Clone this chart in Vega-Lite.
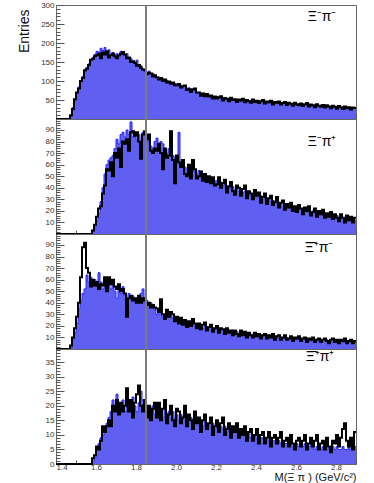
{
"$schema":"https://vega.github.io/schema/vega-lite/v6.json",
"background":"white",
"padding":{"left":16,"top":0,"right":0,"bottom":0},
"spacing":0,
"bounds":"flush",
"config":{"view":{"stroke":"#666","strokeWidth":1},"axis":{"labelFont":"Liberation Sans","labelFontSize":8,"labelColor":"#333","tickColor":"#555","tickWidth":1,"domain":false,"grid":false,"zindex":1,"labelOverlap":false,"titleFont":"Liberation Sans","titleFontWeight":"normal","titleColor":"#111"},"axisY":{"labelPadding":10},"axisX":{"labelPadding":6.5}},
"datasets":{
"p1":[{"x":1.4,"b":0,"k":0},{"x":1.47,"b":8,"k":10},{"x":1.48,"b":30,"k":26},{"x":1.49,"b":50,"k":52},{"x":1.5,"b":68,"k":70},{"x":1.51,"b":84,"k":80},{"x":1.52,"b":98,"k":100},{"x":1.53,"b":112,"k":108},{"x":1.54,"b":125,"k":128},{"x":1.55,"b":135,"k":132},{"x":1.56,"b":145,"k":142},{"x":1.57,"b":152,"k":156},{"x":1.58,"b":162,"k":158},{"x":1.59,"b":170,"k":165},{"x":1.6,"b":178,"k":168},{"x":1.61,"b":176,"k":172},{"x":1.62,"b":186,"k":160},{"x":1.63,"b":180,"k":175},{"x":1.64,"b":188,"k":170},{"x":1.65,"b":176,"k":178},{"x":1.66,"b":182,"k":162},{"x":1.67,"b":170,"k":168},{"x":1.68,"b":175,"k":172},{"x":1.69,"b":168,"k":165},{"x":1.7,"b":172,"k":160},{"x":1.71,"b":165,"k":168},{"x":1.72,"b":178,"k":172},{"x":1.73,"b":170,"k":176},{"x":1.74,"b":168,"k":170},{"x":1.75,"b":172,"k":160},{"x":1.76,"b":158,"k":162},{"x":1.77,"b":160,"k":150},{"x":1.78,"b":150,"k":152},{"x":1.79,"b":145,"k":148},{"x":1.8,"b":155,"k":140},{"x":1.81,"b":138,"k":142},{"x":1.82,"b":140,"k":135},{"x":1.83,"b":132,"k":130},{"x":1.84,"b":125,"k":128},{"x":1.85,"b":122,"k":118},{"x":1.86,"b":126,"k":122},{"x":1.87,"b":118,"k":120},{"x":1.88,"b":120,"k":112},{"x":1.89,"b":112,"k":115},{"x":1.9,"b":108,"k":110},{"x":1.91,"b":110,"k":104},{"x":1.92,"b":104,"k":108},{"x":1.93,"b":106,"k":100},{"x":1.94,"b":100,"k":104},{"x":1.95,"b":102,"k":96},{"x":1.96,"b":96,"k":99},{"x":1.97,"b":97,"k":93},{"x":1.98,"b":93,"k":96},{"x":1.99,"b":94,"k":89},{"x":2.0,"b":92,"k":89},{"x":2.01,"b":87,"k":92},{"x":2.02,"b":89,"k":83},{"x":2.03,"b":84,"k":86},{"x":2.04,"b":79,"k":88},{"x":2.05,"b":81,"k":76},{"x":2.06,"b":82,"k":78},{"x":2.07,"b":74,"k":71},{"x":2.08,"b":75,"k":78},{"x":2.09,"b":75,"k":80},{"x":2.1,"b":69,"k":70},{"x":2.11,"b":70,"k":70},{"x":2.12,"b":66,"k":61},{"x":2.13,"b":68,"k":67},{"x":2.14,"b":61,"k":60},{"x":2.15,"b":61,"k":66},{"x":2.16,"b":62,"k":59},{"x":2.17,"b":56,"k":62},{"x":2.18,"b":59,"k":54},{"x":2.19,"b":56,"k":59},{"x":2.2,"b":59,"k":54},{"x":2.21,"b":54,"k":57},{"x":2.22,"b":55,"k":60},{"x":2.23,"b":52,"k":49},{"x":2.24,"b":56,"k":55},{"x":2.25,"b":51,"k":53},{"x":2.26,"b":53,"k":47},{"x":2.27,"b":50,"k":56},{"x":2.28,"b":52,"k":50},{"x":2.29,"b":48,"k":52},{"x":2.3,"b":51,"k":45},{"x":2.31,"b":49,"k":51},{"x":2.32,"b":46,"k":49},{"x":2.33,"b":50,"k":53},{"x":2.34,"b":47,"k":44},{"x":2.35,"b":48,"k":50},{"x":2.36,"b":45,"k":47},{"x":2.37,"b":49,"k":43},{"x":2.38,"b":46,"k":51},{"x":2.39,"b":47,"k":45},{"x":2.4,"b":45,"k":48},{"x":2.41,"b":48,"k":42},{"x":2.42,"b":44,"k":47},{"x":2.43,"b":46,"k":50},{"x":2.44,"b":43,"k":41},{"x":2.45,"b":46,"k":46},{"x":2.46,"b":42,"k":44},{"x":2.47,"b":45,"k":48},{"x":2.48,"b":43,"k":38},{"x":2.49,"b":41,"k":45},{"x":2.5,"b":44,"k":43},{"x":2.51,"b":41,"k":46},{"x":2.52,"b":43,"k":38},{"x":2.53,"b":40,"k":42},{"x":2.54,"b":42,"k":45},{"x":2.55,"b":39,"k":37},{"x":2.56,"b":41,"k":43},{"x":2.57,"b":38,"k":40},{"x":2.58,"b":40,"k":35},{"x":2.59,"b":39,"k":43},{"x":2.6,"b":37,"k":39},{"x":2.61,"b":40,"k":36},{"x":2.62,"b":37,"k":41},{"x":2.63,"b":38,"k":34},{"x":2.64,"b":36,"k":39},{"x":2.65,"b":38,"k":42},{"x":2.66,"b":35,"k":33},{"x":2.67,"b":37,"k":38},{"x":2.68,"b":34,"k":36},{"x":2.69,"b":36,"k":31},{"x":2.7,"b":35,"k":39},{"x":2.71,"b":33,"k":35},{"x":2.72,"b":36,"k":32},{"x":2.73,"b":33,"k":37},{"x":2.74,"b":34,"k":30},{"x":2.75,"b":32,"k":36},{"x":2.76,"b":34,"k":33},{"x":2.77,"b":31,"k":28},{"x":2.78,"b":33,"k":35},{"x":2.79,"b":31,"k":32},{"x":2.8,"b":30,"k":27},{"x":2.81,"b":32,"k":34},{"x":2.82,"b":29,"k":31},{"x":2.83,"b":31,"k":26},{"x":2.84,"b":29,"k":33},{"x":2.85,"b":30,"k":28},{"x":2.86,"b":28,"k":31},{"x":2.87,"b":29,"k":25},{"x":2.88,"b":27,"k":30},{"x":2.89,"b":28,"k":29},{"x":2.9,"b":28,"k":29}],
"p2":[{"x":1.4,"b":0,"k":0},{"x":1.58,"b":2,"k":3},{"x":1.59,"b":6,"k":8},{"x":1.6,"b":12,"k":15},{"x":1.61,"b":18,"k":22},{"x":1.62,"b":28,"k":24},{"x":1.63,"b":40,"k":35},{"x":1.64,"b":52,"k":42},{"x":1.65,"b":60,"k":56},{"x":1.66,"b":64,"k":55},{"x":1.67,"b":66,"k":62},{"x":1.68,"b":68,"k":50},{"x":1.69,"b":74,"k":70},{"x":1.7,"b":82,"k":66},{"x":1.71,"b":78,"k":74},{"x":1.72,"b":86,"k":58},{"x":1.73,"b":88,"k":80},{"x":1.74,"b":84,"k":78},{"x":1.75,"b":90,"k":82},{"x":1.76,"b":86,"k":72},{"x":1.77,"b":97,"k":88},{"x":1.78,"b":84,"k":89},{"x":1.79,"b":88,"k":85},{"x":1.8,"b":82,"k":88},{"x":1.81,"b":86,"k":80},{"x":1.82,"b":80,"k":65},{"x":1.83,"b":88,"k":86},{"x":1.84,"b":86,"k":89},{"x":1.85,"b":84,"k":82},{"x":1.86,"b":80,"k":86},{"x":1.87,"b":76,"k":72},{"x":1.88,"b":74,"k":70},{"x":1.89,"b":80,"k":74},{"x":1.9,"b":83,"k":72},{"x":1.91,"b":76,"k":78},{"x":1.92,"b":80,"k":70},{"x":1.93,"b":78,"k":56},{"x":1.94,"b":72,"k":74},{"x":1.95,"b":70,"k":66},{"x":1.96,"b":74,"k":68},{"x":1.97,"b":70,"k":89},{"x":1.98,"b":68,"k":64},{"x":1.99,"b":66,"k":44},{"x":2.0,"b":64,"k":68},{"x":2.01,"b":88,"k":62},{"x":2.02,"b":62,"k":58},{"x":2.03,"b":60,"k":64},{"x":2.04,"b":58,"k":52},{"x":2.05,"b":56,"k":50},{"x":2.06,"b":58,"k":60},{"x":2.07,"b":55,"k":48},{"x":2.08,"b":60,"k":64},{"x":2.09,"b":54,"k":56},{"x":2.1,"b":52,"k":48},{"x":2.11,"b":55,"k":50},{"x":2.12,"b":50,"k":54},{"x":2.13,"b":52,"k":46},{"x":2.14,"b":48,"k":52},{"x":2.15,"b":49,"k":45},{"x":2.16,"b":47,"k":50},{"x":2.17,"b":48,"k":44},{"x":2.18,"b":46,"k":49},{"x":2.19,"b":46,"k":42},{"x":2.2,"b":46,"k":43},{"x":2.21,"b":44,"k":49},{"x":2.22,"b":45,"k":40},{"x":2.23,"b":42,"k":44},{"x":2.24,"b":43,"k":47},{"x":2.25,"b":40,"k":36},{"x":2.26,"b":42,"k":41},{"x":2.27,"b":39,"k":45},{"x":2.28,"b":41,"k":37},{"x":2.29,"b":38,"k":34},{"x":2.3,"b":40,"k":42},{"x":2.31,"b":37,"k":40},{"x":2.32,"b":38,"k":33},{"x":2.33,"b":36,"k":39},{"x":2.34,"b":37,"k":42},{"x":2.35,"b":34,"k":31},{"x":2.36,"b":36,"k":37},{"x":2.37,"b":33,"k":35},{"x":2.38,"b":35,"k":30},{"x":2.39,"b":33,"k":38},{"x":2.4,"b":34,"k":33},{"x":2.41,"b":31,"k":36},{"x":2.42,"b":33,"k":27},{"x":2.43,"b":30,"k":32},{"x":2.44,"b":31,"k":35},{"x":2.45,"b":29,"k":26},{"x":2.46,"b":30,"k":31},{"x":2.47,"b":28,"k":33},{"x":2.48,"b":29,"k":25},{"x":2.49,"b":27,"k":28},{"x":2.5,"b":28,"k":32},{"x":2.51,"b":25,"k":23},{"x":2.52,"b":27,"k":27},{"x":2.53,"b":24,"k":29},{"x":2.54,"b":26,"k":21},{"x":2.55,"b":24,"k":26},{"x":2.56,"b":25,"k":23},{"x":2.57,"b":22,"k":27},{"x":2.58,"b":24,"k":20},{"x":2.59,"b":22,"k":24},{"x":2.6,"b":23,"k":19},{"x":2.61,"b":21,"k":25},{"x":2.62,"b":22,"k":22},{"x":2.63,"b":20,"k":17},{"x":2.64,"b":21,"k":23},{"x":2.65,"b":19,"k":20},{"x":2.66,"b":20,"k":24},{"x":2.67,"b":18,"k":16},{"x":2.68,"b":20,"k":19},{"x":2.69,"b":18,"k":22},{"x":2.7,"b":19,"k":15},{"x":2.71,"b":17,"k":20},{"x":2.72,"b":18,"k":17},{"x":2.73,"b":16,"k":21},{"x":2.74,"b":17,"k":14},{"x":2.75,"b":16,"k":18},{"x":2.76,"b":17,"k":15},{"x":2.77,"b":15,"k":19},{"x":2.78,"b":16,"k":13},{"x":2.79,"b":14,"k":17},{"x":2.8,"b":16,"k":14},{"x":2.81,"b":14,"k":11},{"x":2.82,"b":15,"k":17},{"x":2.83,"b":13,"k":14},{"x":2.84,"b":14,"k":10},{"x":2.85,"b":13,"k":16},{"x":2.86,"b":14,"k":12},{"x":2.87,"b":12,"k":15},{"x":2.88,"b":13,"k":10},{"x":2.89,"b":12,"k":14},{"x":2.9,"b":12,"k":14}],
"p3":[{"x":1.4,"b":0,"k":0},{"x":1.47,"b":2,"k":3},{"x":1.48,"b":8,"k":10},{"x":1.49,"b":14,"k":18},{"x":1.5,"b":22,"k":28},{"x":1.51,"b":35,"k":40},{"x":1.52,"b":42,"k":62},{"x":1.53,"b":48,"k":88},{"x":1.54,"b":52,"k":92},{"x":1.55,"b":64,"k":70},{"x":1.56,"b":58,"k":66},{"x":1.57,"b":62,"k":54},{"x":1.58,"b":56,"k":60},{"x":1.59,"b":60,"k":55},{"x":1.6,"b":54,"k":58},{"x":1.61,"b":66,"k":52},{"x":1.62,"b":58,"k":56},{"x":1.63,"b":52,"k":55},{"x":1.64,"b":60,"k":62},{"x":1.65,"b":55,"k":50},{"x":1.66,"b":58,"k":62},{"x":1.67,"b":52,"k":56},{"x":1.68,"b":56,"k":60},{"x":1.69,"b":50,"k":54},{"x":1.7,"b":44,"k":52},{"x":1.71,"b":52,"k":56},{"x":1.72,"b":48,"k":50},{"x":1.73,"b":54,"k":52},{"x":1.74,"b":46,"k":48},{"x":1.75,"b":42,"k":28},{"x":1.76,"b":48,"k":44},{"x":1.77,"b":44,"k":46},{"x":1.78,"b":46,"k":42},{"x":1.79,"b":40,"k":44},{"x":1.8,"b":44,"k":40},{"x":1.81,"b":42,"k":46},{"x":1.82,"b":48,"k":40},{"x":1.83,"b":52,"k":44},{"x":1.84,"b":40,"k":42},{"x":1.85,"b":42,"k":38},{"x":1.86,"b":38,"k":40},{"x":1.87,"b":40,"k":36},{"x":1.88,"b":36,"k":38},{"x":1.89,"b":34,"k":36},{"x":1.9,"b":30,"k":35},{"x":1.91,"b":34,"k":32},{"x":1.92,"b":32,"k":43},{"x":1.93,"b":28,"k":30},{"x":1.94,"b":30,"k":26},{"x":1.95,"b":32,"k":34},{"x":1.96,"b":30,"k":28},{"x":1.97,"b":29,"k":32},{"x":1.98,"b":27,"k":30},{"x":1.99,"b":28,"k":24},{"x":2.0,"b":26,"k":28},{"x":2.01,"b":25,"k":22},{"x":2.02,"b":24,"k":27},{"x":2.03,"b":23,"k":21},{"x":2.04,"b":22,"k":25},{"x":2.05,"b":21,"k":19},{"x":2.06,"b":22,"k":24},{"x":2.07,"b":21,"k":20},{"x":2.08,"b":23,"k":26},{"x":2.09,"b":20,"k":22},{"x":2.1,"b":21,"k":18},{"x":2.11,"b":19,"k":22},{"x":2.12,"b":20,"k":17},{"x":2.13,"b":18,"k":21},{"x":2.14,"b":20,"k":23},{"x":2.15,"b":18,"k":16},{"x":2.16,"b":19,"k":19},{"x":2.17,"b":17,"k":21},{"x":2.18,"b":18,"k":15},{"x":2.19,"b":17,"k":18},{"x":2.2,"b":18,"k":20},{"x":2.21,"b":16,"k":14},{"x":2.22,"b":17,"k":18},{"x":2.23,"b":15,"k":17},{"x":2.24,"b":16,"k":13},{"x":2.25,"b":15,"k":18},{"x":2.26,"b":16,"k":14},{"x":2.27,"b":14,"k":16},{"x":2.28,"b":15,"k":12},{"x":2.29,"b":14,"k":16},{"x":2.3,"b":15,"k":13},{"x":2.31,"b":13,"k":11},{"x":2.32,"b":14,"k":16},{"x":2.33,"b":13,"k":12},{"x":2.34,"b":14,"k":15},{"x":2.35,"b":12,"k":10},{"x":2.36,"b":13,"k":14},{"x":2.37,"b":12,"k":12},{"x":2.38,"b":13,"k":10},{"x":2.39,"b":12,"k":14},{"x":2.4,"b":12,"k":11},{"x":2.41,"b":11,"k":13},{"x":2.42,"b":12,"k":9},{"x":2.43,"b":11,"k":12},{"x":2.44,"b":12,"k":13},{"x":2.45,"b":10,"k":9},{"x":2.46,"b":11,"k":12},{"x":2.47,"b":10,"k":10},{"x":2.48,"b":11,"k":13},{"x":2.49,"b":10,"k":8},{"x":2.5,"b":11,"k":11},{"x":2.51,"b":9,"k":12},{"x":2.52,"b":10,"k":8},{"x":2.53,"b":10,"k":10},{"x":2.54,"b":9,"k":12},{"x":2.55,"b":10,"k":8},{"x":2.56,"b":9,"k":9},{"x":2.57,"b":10,"k":11},{"x":2.58,"b":9,"k":7},{"x":2.59,"b":9,"k":10},{"x":2.6,"b":8,"k":9},{"x":2.61,"b":9,"k":11},{"x":2.62,"b":8,"k":7},{"x":2.63,"b":9,"k":9},{"x":2.64,"b":8,"k":10},{"x":2.65,"b":8,"k":6},{"x":2.66,"b":8,"k":9},{"x":2.67,"b":7,"k":8},{"x":2.68,"b":8,"k":10},{"x":2.69,"b":7,"k":6},{"x":2.7,"b":8,"k":8},{"x":2.71,"b":7,"k":9},{"x":2.72,"b":8,"k":6},{"x":2.73,"b":7,"k":8},{"x":2.74,"b":7,"k":9},{"x":2.75,"b":8,"k":7},{"x":2.76,"b":7,"k":5},{"x":2.77,"b":7,"k":8},{"x":2.78,"b":6,"k":9},{"x":2.79,"b":7,"k":6},{"x":2.8,"b":7,"k":8},{"x":2.81,"b":6,"k":5},{"x":2.82,"b":7,"k":8},{"x":2.83,"b":6,"k":7},{"x":2.84,"b":7,"k":9},{"x":2.85,"b":6,"k":5},{"x":2.86,"b":6,"k":7},{"x":2.87,"b":7,"k":8},{"x":2.88,"b":6,"k":5},{"x":2.89,"b":6,"k":7},{"x":2.9,"b":6,"k":7}],
"p4":[{"x":1.4,"b":0,"k":0},{"x":1.58,"b":1,"k":2},{"x":1.59,"b":3,"k":3},{"x":1.6,"b":5,"k":6},{"x":1.61,"b":7,"k":5},{"x":1.62,"b":9,"k":8},{"x":1.63,"b":10,"k":13},{"x":1.64,"b":12,"k":11},{"x":1.65,"b":14,"k":13},{"x":1.66,"b":16,"k":15},{"x":1.67,"b":18,"k":13},{"x":1.68,"b":22,"k":20},{"x":1.69,"b":20,"k":18},{"x":1.7,"b":24,"k":22},{"x":1.71,"b":20,"k":17},{"x":1.72,"b":19,"k":21},{"x":1.73,"b":22,"k":18},{"x":1.74,"b":18,"k":20},{"x":1.75,"b":25,"k":26},{"x":1.76,"b":21,"k":18},{"x":1.77,"b":19,"k":22},{"x":1.78,"b":23,"k":16},{"x":1.79,"b":20,"k":21},{"x":1.8,"b":18,"k":24},{"x":1.81,"b":21,"k":27},{"x":1.82,"b":25,"k":20},{"x":1.83,"b":22,"k":18},{"x":1.84,"b":19,"k":22},{"x":1.85,"b":20,"k":16},{"x":1.86,"b":17,"k":20},{"x":1.87,"b":18,"k":15},{"x":1.88,"b":20,"k":19},{"x":1.89,"b":17,"k":21},{"x":1.9,"b":19,"k":16},{"x":1.91,"b":17,"k":21},{"x":1.92,"b":18,"k":15},{"x":1.93,"b":16,"k":19},{"x":1.94,"b":19,"k":22},{"x":1.95,"b":17,"k":14},{"x":1.96,"b":18,"k":17},{"x":1.97,"b":16,"k":20},{"x":1.98,"b":18,"k":15},{"x":1.99,"b":16,"k":13},{"x":2.0,"b":17,"k":19},{"x":2.01,"b":15,"k":18},{"x":2.02,"b":17,"k":14},{"x":2.03,"b":16,"k":16},{"x":2.04,"b":15,"k":20},{"x":2.05,"b":16,"k":13},{"x":2.06,"b":14,"k":17},{"x":2.07,"b":16,"k":15},{"x":2.08,"b":15,"k":12},{"x":2.09,"b":14,"k":18},{"x":2.1,"b":16,"k":14},{"x":2.11,"b":14,"k":16},{"x":2.12,"b":15,"k":11},{"x":2.13,"b":13,"k":15},{"x":2.14,"b":15,"k":17},{"x":2.15,"b":13,"k":12},{"x":2.16,"b":14,"k":14},{"x":2.17,"b":13,"k":16},{"x":2.18,"b":14,"k":10},{"x":2.19,"b":12,"k":13},{"x":2.2,"b":14,"k":15},{"x":2.21,"b":12,"k":11},{"x":2.22,"b":13,"k":14},{"x":2.23,"b":12,"k":16},{"x":2.24,"b":13,"k":10},{"x":2.25,"b":11,"k":12},{"x":2.26,"b":12,"k":14},{"x":2.27,"b":11,"k":9},{"x":2.28,"b":12,"k":13},{"x":2.29,"b":11,"k":11},{"x":2.3,"b":12,"k":14},{"x":2.31,"b":10,"k":9},{"x":2.32,"b":11,"k":12},{"x":2.33,"b":10,"k":10},{"x":2.34,"b":11,"k":13},{"x":2.35,"b":10,"k":8},{"x":2.36,"b":11,"k":11},{"x":2.37,"b":9,"k":12},{"x":2.38,"b":10,"k":8},{"x":2.39,"b":10,"k":10},{"x":2.4,"b":9,"k":12},{"x":2.41,"b":10,"k":7},{"x":2.42,"b":9,"k":10},{"x":2.43,"b":9,"k":11},{"x":2.44,"b":8,"k":7},{"x":2.45,"b":9,"k":9},{"x":2.46,"b":8,"k":11},{"x":2.47,"b":9,"k":6},{"x":2.48,"b":8,"k":9},{"x":2.49,"b":8,"k":10},{"x":2.5,"b":7,"k":7},{"x":2.51,"b":8,"k":9},{"x":2.52,"b":7,"k":11},{"x":2.53,"b":8,"k":6},{"x":2.54,"b":7,"k":8},{"x":2.55,"b":7,"k":9},{"x":2.56,"b":8,"k":6},{"x":2.57,"b":7,"k":10},{"x":2.58,"b":6,"k":7},{"x":2.59,"b":7,"k":5},{"x":2.6,"b":7,"k":8},{"x":2.61,"b":6,"k":9},{"x":2.62,"b":7,"k":6},{"x":2.63,"b":6,"k":8},{"x":2.64,"b":7,"k":10},{"x":2.65,"b":6,"k":5},{"x":2.66,"b":6,"k":7},{"x":2.67,"b":7,"k":9},{"x":2.68,"b":6,"k":6},{"x":2.69,"b":5,"k":8},{"x":2.7,"b":6,"k":10},{"x":2.71,"b":6,"k":5},{"x":2.72,"b":5,"k":7},{"x":2.73,"b":6,"k":8},{"x":2.74,"b":6,"k":5},{"x":2.75,"b":5,"k":9},{"x":2.76,"b":6,"k":6},{"x":2.77,"b":5,"k":4},{"x":2.78,"b":6,"k":8},{"x":2.79,"b":5,"k":7},{"x":2.8,"b":6,"k":10},{"x":2.81,"b":5,"k":6},{"x":2.82,"b":5,"k":9},{"x":2.83,"b":6,"k":12},{"x":2.84,"b":5,"k":14},{"x":2.85,"b":5,"k":8},{"x":2.86,"b":6,"k":6},{"x":2.87,"b":5,"k":9},{"x":2.88,"b":5,"k":5},{"x":2.89,"b":6,"k":11},{"x":2.9,"b":6,"k":11}]
},
"vconcat":[
{"width":300,"height":114,"data":{"name":"p1"},"resolve":{"axis":{"x":"independent","y":"independent"}},"layer":[
{"mark":{"type":"area","interpolate":"step-after","color":"#5f5ff2","opacity":1,"line":{"color":"#2a2aff","strokeWidth":1}},"encoding":{"x":{"field":"x","type":"quantitative","scale":{"domain":[1.4,2.9],"nice":false,"zero":false},"axis":{"values":[1.4,1.6,1.8,2.0,2.2,2.4,2.6,2.8],"labels":false,"title":null,"tickSize":-7}},"y":{"field":"b","type":"quantitative","scale":{"domain":[0,300],"nice":false},"axis":{"values":[50,100,150,200,250,300],"tickSize":-8,"title":"Entries","titleX":-28,"titleY":4,"titleAlign":"right","titleAngle":-90,"titleBaseline":"alphabetic","titleFontSize":14}}}},
{"mark":{"type":"line","interpolate":"step-after","color":"#000","strokeWidth":2},"encoding":{"x":{"field":"x","type":"quantitative","axis":{"orient":"bottom","values":[1.5,1.7,1.9,2.1,2.3,2.5,2.7,2.9],"labels":false,"title":null,"tickSize":-4}},"y":{"field":"k","type":"quantitative","axis":{"orient":"left","values":[10,20,30,40,60,70,80,90,110,120,130,140,160,170,180,190,210,220,230,240,260,270,280,290],"labels":false,"title":null,"tickSize":-4}}}},
{"data":{"values":[{"v":1.85}]},"mark":{"type":"rule","color":"#7b7b7b","strokeWidth":2},"encoding":{"x":{"field":"v","type":"quantitative","axis":null}}},
{"data":{"values":[{"t":"Ξ⁻π⁻"}]},"mark":{"type":"text","font":"Liberation Sans","fontSize":14,"align":"center","baseline":"middle","color":"#000"},"encoding":{"x":{"datum":2.73,"type":"quantitative","axis":null},"y":{"datum":268,"type":"quantitative","axis":null},"text":{"field":"t"}}}
]},
{"width":300,"height":115,"data":{"name":"p2"},"resolve":{"axis":{"x":"independent","y":"independent"}},"layer":[
{"mark":{"type":"area","interpolate":"step-after","color":"#5f5ff2","opacity":1,"line":{"color":"#2a2aff","strokeWidth":1}},"encoding":{"x":{"field":"x","type":"quantitative","scale":{"domain":[1.4,2.9],"nice":false,"zero":false},"axis":{"values":[1.4,1.6,1.8,2.0,2.2,2.4,2.6,2.8],"labels":false,"title":null,"tickSize":-7}},"y":{"field":"b","type":"quantitative","scale":{"domain":[0,99.5],"nice":false},"axis":{"values":[10,20,30,40,50,60,70,80,90],"tickSize":-8,"title":null}}}},
{"mark":{"type":"line","interpolate":"step-after","color":"#000","strokeWidth":2},"encoding":{"x":{"field":"x","type":"quantitative","axis":{"orient":"bottom","values":[1.5,1.7,1.9,2.1,2.3,2.5,2.7,2.9],"labels":false,"title":null,"tickSize":-4}},"y":{"field":"k","type":"quantitative","axis":{"orient":"left","values":[2,4,6,8,12,14,16,18,22,24,26,28,32,34,36,38,42,44,46,48,52,54,56,58,62,64,66,68,72,74,76,78,82,84,86,88,92,94,96,98],"labels":false,"title":null,"tickSize":-4}}}},
{"data":{"values":[{"v":1.85}]},"mark":{"type":"rule","color":"#7b7b7b","strokeWidth":2},"encoding":{"x":{"field":"v","type":"quantitative","axis":null}}},
{"data":{"values":[{"t":"Ξ⁻π⁺"}]},"mark":{"type":"text","font":"Liberation Sans","fontSize":14,"align":"center","baseline":"middle","color":"#000"},"encoding":{"x":{"datum":2.73,"type":"quantitative","axis":null},"y":{"datum":80,"type":"quantitative","axis":null},"text":{"field":"t"}}}
]},
{"width":300,"height":115,"data":{"name":"p3"},"resolve":{"axis":{"x":"independent","y":"independent"}},"layer":[
{"mark":{"type":"area","interpolate":"step-after","color":"#5f5ff2","opacity":1,"line":{"color":"#2a2aff","strokeWidth":1}},"encoding":{"x":{"field":"x","type":"quantitative","scale":{"domain":[1.4,2.9],"nice":false,"zero":false},"axis":{"values":[1.4,1.6,1.8,2.0,2.2,2.4,2.6,2.8],"labels":false,"title":null,"tickSize":-7}},"y":{"field":"b","type":"quantitative","scale":{"domain":[0,99.5],"nice":false},"axis":{"values":[10,20,30,40,50,60,70,80,90],"tickSize":-8,"title":null}}}},
{"mark":{"type":"line","interpolate":"step-after","color":"#000","strokeWidth":2},"encoding":{"x":{"field":"x","type":"quantitative","axis":{"orient":"bottom","values":[1.5,1.7,1.9,2.1,2.3,2.5,2.7,2.9],"labels":false,"title":null,"tickSize":-4}},"y":{"field":"k","type":"quantitative","axis":{"orient":"left","values":[2,4,6,8,12,14,16,18,22,24,26,28,32,34,36,38,42,44,46,48,52,54,56,58,62,64,66,68,72,74,76,78,82,84,86,88,92,94,96,98],"labels":false,"title":null,"tickSize":-4}}}},
{"data":{"values":[{"v":1.85}]},"mark":{"type":"rule","color":"#7b7b7b","strokeWidth":2},"encoding":{"x":{"field":"v","type":"quantitative","axis":null}}},
{"data":{"values":[{"t":"Ξ̄⁺π⁻"}]},"mark":{"type":"text","font":"Liberation Sans","fontSize":14,"align":"center","baseline":"middle","color":"#000"},"encoding":{"x":{"datum":2.715,"type":"quantitative","axis":null},"y":{"datum":87,"type":"quantitative","axis":null},"text":{"field":"t"}}}
]},
{"width":300,"height":115,"data":{"name":"p4"},"resolve":{"axis":{"x":"independent","y":"independent"}},"layer":[
{"mark":{"type":"area","interpolate":"step-after","color":"#5f5ff2","opacity":1,"line":{"color":"#2a2aff","strokeWidth":1}},"encoding":{"x":{"field":"x","type":"quantitative","scale":{"domain":[1.4,2.9],"nice":false,"zero":false},"axis":{"values":[1.4,1.6,1.8,2.0,2.2,2.4,2.6,2.8],"format":".1f","tickSize":-7,"title":"M(Ξ π ) (GeV/c²)","titleFontSize":11,"titleAnchor":"end","titleAlign":"right","titleX":300,"titleY":13.5,"titleBaseline":"middle"}},"y":{"field":"b","type":"quantitative","scale":{"domain":[0,39.5],"nice":false},"axis":{"values":[0,5,10,15,20,25,30,35],"tickSize":-8,"title":null}}}},
{"mark":{"type":"line","interpolate":"step-after","color":"#000","strokeWidth":2},"encoding":{"x":{"field":"x","type":"quantitative","axis":{"orient":"bottom","values":[1.5,1.7,1.9,2.1,2.3,2.5,2.7,2.9],"labels":false,"title":null,"tickSize":-4}},"y":{"field":"k","type":"quantitative","axis":{"orient":"left","values":[1,2,3,4,6,7,8,9,11,12,13,14,16,17,18,19,21,22,23,24,26,27,28,29,31,32,33,34,36,37,38,39],"labels":false,"title":null,"tickSize":-4}}}},
{"data":{"values":[{"v":1.85}]},"mark":{"type":"rule","color":"#7b7b7b","strokeWidth":2},"encoding":{"x":{"field":"v","type":"quantitative","axis":null}}},
{"data":{"values":[{"t":"Ξ̄⁺π⁺"}]},"mark":{"type":"text","font":"Liberation Sans","fontSize":14,"align":"center","baseline":"middle","color":"#000"},"encoding":{"x":{"datum":2.72,"type":"quantitative","axis":null},"y":{"datum":36.7,"type":"quantitative","axis":null},"text":{"field":"t"}}}
]}
]
}
